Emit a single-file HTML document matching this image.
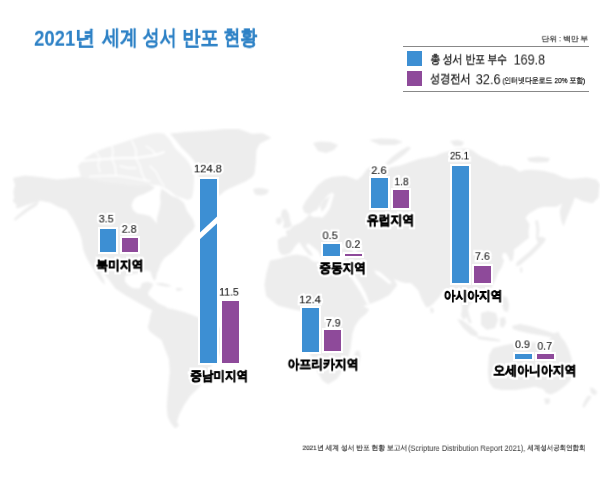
<!DOCTYPE html>
<html lang="ko"><head><meta charset="utf-8">
<style>
html,body{margin:0;padding:0;background:#fff;}
body{width:608px;height:480px;position:relative;overflow:hidden;font-family:"Liberation Sans",sans-serif;}
svg{position:absolute;left:0;top:0;}
.b{position:absolute;}
.bb{box-shadow:0 0 0.6px 2px #fff;}
.t{position:absolute;left:0;top:0;white-space:nowrap;line-height:1.2;transform-origin:0 0;will-change:transform;}
</style></head><body>
<svg width="608" height="480" viewBox="0 0 608 480"><defs><filter id="bl" x="0" y="0" width="1" height="1"><feGaussianBlur stdDeviation="0.8"/></filter></defs><g filter="url(#bl)"><path fill="#f1f1f1" d="M78,166 85,158 95,152 105,148 118,144 130,140 142,136 152,133.5 158,133 164,133.5 170,140 175,148 180,153 185,158 189,163 192,169 194,175 194,182 193.5,190 192,198 188,200 182,198 176,196 170,191 163,187 156,185 148,184.5 138,185.5 128,184.5 116,183 106,182 94,179.5 81,177Z"/><path fill="#ededed" d="M13,178 25,175.5 40,177 57,179.5 72,178 81,177 94,179.5 106,182 116,183 128,184.5 138,185.5 148,184.5 155,187 162,189 168,193 172,196 178,198 184,203 187,211 192.8,219 195,226 193,230 190.7,232 185,237.5 179.4,245 171.9,252.5 164.4,258.1 160.7,263.8 158.8,269.4 156.9,273.2 156,278.8 154.1,280.7 152.2,276.9 150.3,271.3 145.6,270.3 138.1,273.2 128.8,275 125,276 125,281.7 129,286 133.3,288.3 140,288.5 142,283 148,281.7 153.3,284 151,288.5 148.3,292 148.3,295 153,299 158.3,303.3 163,305.5 166.7,307 166,312 165,316.7 158.3,313.3 148.3,308.3 136.7,301.7 125,295 115,288.3 110,281 104,274 99,268 101,274 104,280 105,285 101,281 96.7,275 91.7,266.7 86.7,258.3 83.3,250 81.7,240 79.7,233 73.2,219.7 66.6,209.9 58,206.7 50,202.5 40,200.8 35,202.5 26.7,205 18.3,208.3 15.8,208 16.7,205 12.5,200.8 14.2,198.3 13.3,191.7 15,185ZM39,201 31,205 24,210 17,216 13.5,219.5 15.5,220.5 22,215.5 29,210.5 37,205.5ZM170,133.5 176.6,133 185.5,132 209.2,130.4 224.9,128.9 238.8,128.9 251.8,133.8 262.5,133.3 271.4,137.8 259.7,143.7 256.5,150 255.8,163 254.5,173.7 251.8,177.6 245.3,181.6 237.4,185 229.5,188.5 224,191.5 221,194.5 216,197 209,197 203,193 199.5,186 199,179 198,167 194,161 190,156 185.5,151.5 181,147 175.5,140ZM253,189 258,188 264,188.5 269,190 267,194 261,195.5 255,194.5ZM313,143 320,141.5 330,142 338,145 334,150 326,153 318,151ZM369,140 380,138.5 395,139 403,142 395,145 380,145ZM385,164 392,157 400,151 408,146.5 411,148 405,154 397,160 389,165ZM450,141 458,140 464,142 462,146 454,146ZM527,158 538,156.5 550,158 548,162 536,162.5 529,161.5ZM282,210 286,209 289,214 290,220 292,226 288,228 283,228 284,222 281,216ZM276.5,218 281,217 282,222 279,225 276,223ZM325,179.5 332,177 338.7,176.2 346,176 352,178 357,180 362,176 367,169 372,166 379,168 385,169.5 392,167 400.5,165.5 410,162 419,159 427,157.5 434.7,156.3 442,153 450.5,151 458,149 466,148.4 472,150 477,153.7 482,157 487.4,159 494,162 500,165.8 505,165.5 511.7,166.8 519.6,171.7 525,170 531.4,169.7 543.3,170.7 555.1,173.7 563,177.6 570,179 576.8,178.6 586.7,177.6 596.5,179.6 600,184.5 599,191 598.5,197.4 592.6,203.3 586,202 582.7,201.3 576,198 574.8,197.4 573,203 570,210 567,217 563.5,226.5 561,220 559.8,211 562,203.5 556.7,206.7 544.2,206.7 537.9,208.2 528.5,214 525.4,218 527.5,221 529.6,224.4 528.5,231.7 529,238 525.4,240.6 518.1,246.5 514,249.5 513.75,254 513,260 510,261.5 508.5,257 506,253 503,253 502,257 504,261 501.6,267.4 498,273 495.7,279.2 491.7,287.1 489,293 485,296 481,292 477,290 476,296 472,302 469,306 468,310 467,316 464,320 461,316 462,308 461,300 458,294 452,292 446,289 443.4,290.5 439.5,297.1 434,303 430.3,306.3 426.3,307.6 422,300 418,290 411,283 405,283 399.2,281.3 394,279 389,282 382,276 377,271 372,269 366,266 360,262 355,259 350,257 346,258 344,254 338,250 335,251 330,248 325,252 327,258 321,257 318,251 313,247 308,243 306,246 311,252 313,256 309,255 303,248 299.3,242 295.4,246 292,251 289.5,253.5 285,255 281,254.5 278.5,250 277.6,240 282,237 287,236 285.7,231 290,229.2 293,226 299.5,223.3 304,220 307,217 309.3,214.4 313.3,217 319,217 322,212 320,206 324,200 330,196 333,191.7 328,195 322,202 317,210 313.3,211.4 309.3,214.4 304.4,212.4 302.4,207.5 305.4,201.6 311.3,193.7 317.2,185.8ZM541,239.5 544,242.5 538,249 532,255 526,260 520,265 516,266.5 516.5,262.5 523,257 529,252 535,246ZM536,238 541,236.5 546,238.5 544,242.5 538,243ZM535,221 538,220 539.5,230 538,239 536,238 536.5,229ZM520,268 522,267 522.5,272 520.5,273ZM430,308 433,308 434,312 431,313.5ZM270,260.6 279.3,258.7 285.5,256.5 292.5,255 297.4,254.5 307.2,256.5 313.2,261.4 321,262.4 329,263.4 336.8,264.4 341,262 346,258 350,257 355,259 360,262 366,266 372,269 377,271 382,276 389,282 394,279 397.2,285.3 389.3,295.1 380,300 369.6,304 363,306 369.3,309.3 366,314 359.9,318.7 355,326 352.4,333.7 350.5,348.7 346.8,363.6 337.4,378.6 328,384.3 322.4,380.5 315,367.4 309.3,352.4 305.6,337.4 303.7,322.4 301.8,311.2 292.5,309.3 277.5,305.6 266.2,296.2 264.4,285 266.2,273.7ZM355,352 359,350 360.5,356 358,368 354,372 352.5,366 354,358ZM152.5,310.3 158.8,307.2 165,308 171.3,308.8 183.8,311.9 196.3,316.6 205,321 215,326 225,330 232,335 230,343 222,352 213.4,361.9 205.6,377.5 199.4,386.9 190,396.3 183.8,405.6 179,415 177,422 179.2,425.4 175,428.5 170.8,423.3 167.7,417.1 166.7,406.7 167.7,394.2 168.8,381.7 169.8,371.3 168.8,358.8 164.6,348.3 161.5,340 155.6,336 149.4,331 147.8,327 149.4,321.3 150.9,313.4ZM155,283.5 162,283 168,284.5 172,286.3 166,286.8 159,285.2ZM175.7,288 181,288 183,290 177,291ZM465,308 468,310 470,318 472,323 469,323 466,316ZM457,319 462,320 470,326 478,333 477,337 471,335 463,328ZM481,313 488,311 496,313 498,320 495,328 487,330 481,325ZM477,336 486,337 495,338.5 501,340 499,341.5 488,340.5 478,339ZM500,318 505,317 506,323 503,328 500,326ZM502,296 507,297 509,305 508,312 504,311 502,304ZM512,326 520,324 530,326 540,329 550,332 557,334.5 559,337 552,337.5 542,335.5 530,333.5 519,331 513,329ZM493,348 505,345 518,343 528,342 535,342.5 542,341 547,343 551,338 555,333 558.3,331.7 561,337 565,341.7 569,350 571.5,358 573,368 572.5,376 570,381 565.5,385.6 558,391.3 551,394.5 546,393 543.3,389 535,386.7 526.7,388.3 515,390 501.7,390 493.3,388.3 489,382 488,372 488.5,362 489,355ZM544,398.5 550,398.5 549.5,403.5 545.5,404.5ZM590,387.5 593,388 597.4,392 595,395.5 591,393ZM588,395.5 591.8,396.5 588,402 584,408 582.4,406 585,400Z"/><path fill="#fff" d="M341,262 344,263 352,272 360,283 366,294 369.6,304 367,304 361,293 354,282 347,271 341.5,265ZM374,270 380,272 388,279 392,283 389,284 383,279 376,274ZM330,245 336,243 343,244 345,248 338,250 332,249ZM352,241 356,240 357,248 356,255 353,253 353,247ZM318,216 322,212 326,207 329,199 332,193 334,194 332,201 330,208 326,214 322,218ZM131.5,205 134,199 138,196 143,194.5 148,192 152,190 156,186 160,185 161,190 160,196 160.5,203 159,211 157,218 156.8,223.7 154,220 150,216 144,214.5 137.3,213.4 133,210Z"/><path fill="none" stroke="#fff" stroke-width="2.0" stroke-linecap="round" stroke-linejoin="round" d="M82,161 92,160 100,159.5 112,158.5 124,158 136,158 146,156.5 156,155 164,152"/><path fill="none" stroke="#fff" stroke-width="1.6" stroke-linecap="round" stroke-linejoin="round" d="M90,176.5 100,176 110,175.5 120,176 130,177.5 140,179.5 150,181"/><path fill="none" stroke="#fff" stroke-width="1.5" stroke-linecap="round" stroke-linejoin="round" d="M112,146 113,152 112,159 115,166 116,175"/><path fill="none" stroke="#fff" stroke-width="1.5" stroke-linecap="round" stroke-linejoin="round" d="M132,141 136,150 136,158 140,166 142,174 146,181"/><path fill="none" stroke="#fff" stroke-width="1.3" stroke-linecap="round" stroke-linejoin="round" d="M96,152 100,158 98,165 100,172"/><path fill="none" stroke="#fff" stroke-width="1.3" stroke-linecap="round" stroke-linejoin="round" d="M120,166 128,168 136,168"/><path fill="none" stroke="#fff" stroke-width="1.3" stroke-linecap="round" stroke-linejoin="round" d="M146,146 152,150 156,155"/><path fill="none" stroke="#fff" stroke-width="1.3" stroke-linecap="round" stroke-linejoin="round" d="M150,166 156,172 160,180 164,186"/></g></svg>
<div class="b" style="left:403px;top:46px;width:186px;height:1px;background:#888;"></div>
<div class="b" style="left:403px;top:91px;width:186px;height:1px;background:#888;"></div>
<div class="b" style="left:407px;top:51.3px;width:15px;height:15px;background:#3d8fd3;"></div>
<div class="b" style="left:407px;top:71.3px;width:15px;height:15px;background:#8e4a9a;"></div>
<div class="t" style="font-size:11px;color:#fff;-webkit-text-stroke:4.62px #fff;transform:matrix(0.9733,0,0,0.9500,98.70,212.90)">3.5</div>
<div class="t" style="font-size:11px;color:#fff;-webkit-text-stroke:4.62px #fff;transform:matrix(0.9733,0,0,0.9500,121.70,223.20)">2.8</div>
<div class="t" style="font-size:12.5px;font-weight:bold;color:#fff;-webkit-text-stroke:5.52px #fff;transform:matrix(0.9059,0,0,1.0000,96.30,258.50)">북미지역</div>
<div class="t" style="font-size:11px;color:#fff;-webkit-text-stroke:4.42px #fff;transform:matrix(1.0185,0,0,0.9500,193.88,162.85)">124.8</div>
<div class="t" style="font-size:11px;color:#fff;-webkit-text-stroke:4.74px #fff;transform:matrix(0.9500,0,0,0.9500,219.15,286.10)">11.5</div>
<div class="t" style="font-size:12.5px;font-weight:bold;color:#fff;-webkit-text-stroke:5.62px #fff;transform:matrix(0.8891,0,0,1.0000,190.30,369.10)">중남미지역</div>
<div class="t" style="font-size:11px;color:#fff;-webkit-text-stroke:4.50px #fff;transform:matrix(1.0000,0,0,0.9500,322.50,229.62)">0.5</div>
<div class="t" style="font-size:11px;color:#fff;-webkit-text-stroke:4.69px #fff;transform:matrix(0.9600,0,0,0.9500,345.60,238.35)">0.2</div>
<div class="t" style="font-size:12.5px;font-weight:bold;color:#fff;-webkit-text-stroke:5.59px #fff;transform:matrix(0.8941,0,0,1.0000,319.40,261.20)">중동지역</div>
<div class="t" style="font-size:11px;color:#fff;-webkit-text-stroke:4.50px #fff;transform:matrix(1.0000,0,0,0.9500,371.30,164.50)">2.6</div>
<div class="t" style="font-size:11px;color:#fff;-webkit-text-stroke:4.85px #fff;transform:matrix(0.9286,0,0,0.9500,394.37,175.80)">1.8</div>
<div class="t" style="font-size:12.5px;font-weight:bold;color:#fff;-webkit-text-stroke:5.47px #fff;transform:matrix(0.9137,0,0,1.0000,366.70,213.35)">유럽지역</div>
<div class="t" style="font-size:11px;color:#fff;-webkit-text-stroke:5.00px #fff;transform:matrix(0.9000,0,0,0.9500,449.90,149.90)">25.1</div>
<div class="t" style="font-size:11px;color:#fff;-webkit-text-stroke:4.62px #fff;transform:matrix(0.9733,0,0,0.9500,474.90,250.35)">7.6</div>
<div class="t" style="font-size:12.5px;font-weight:bold;color:#fff;-webkit-text-stroke:5.56px #fff;transform:matrix(0.9000,0,0,1.0000,443.80,289.00)">아시아지역</div>
<div class="t" style="font-size:11px;color:#fff;-webkit-text-stroke:4.42px #fff;transform:matrix(1.0190,0,0,0.9500,299.18,293.80)">12.4</div>
<div class="t" style="font-size:11px;color:#fff;-webkit-text-stroke:4.69px #fff;transform:matrix(0.9600,0,0,0.9500,325.90,317.05)">7.9</div>
<div class="t" style="font-size:12.5px;font-weight:bold;color:#fff;-webkit-text-stroke:5.50px #fff;transform:matrix(0.9091,0,0,1.0000,287.60,357.45)">아프리카지역</div>
<div class="t" style="font-size:11px;color:#fff;-webkit-text-stroke:4.66px #fff;transform:matrix(0.9667,0,0,0.9500,515.00,338.55)">0.9</div>
<div class="t" style="font-size:11px;color:#fff;-webkit-text-stroke:4.72px #fff;transform:matrix(0.9533,0,0,0.9500,537.40,340.15)">0.7</div>
<div class="t" style="font-size:12.5px;font-weight:bold;color:#fff;-webkit-text-stroke:5.47px #fff;transform:matrix(0.9133,0,0,1.0000,493.30,363.70)">오세아니아지역</div>
<div class="b bb" style="left:99.7px;top:229.2px;width:16.8px;height:23.3px;background:#3d8fd3"></div>
<div class="b bb" style="left:121.5px;top:238.3px;width:16.8px;height:14.2px;background:#8e4a9a"></div>
<div class="b bb" style="left:200.0px;top:178.7px;width:16.8px;height:184.8px;background:#3d8fd3"></div>
<div class="b bb" style="left:221.8px;top:301.1px;width:16.8px;height:62.4px;background:#8e4a9a"></div>
<div class="b bb" style="left:323.1px;top:243.5px;width:16.8px;height:12.8px;background:#3d8fd3"></div>
<div class="b bb" style="left:344.9px;top:253.5px;width:16.8px;height:2.8px;background:#8e4a9a"></div>
<div class="b bb" style="left:370.8px;top:178.3px;width:16.8px;height:29.7px;background:#3d8fd3"></div>
<div class="b bb" style="left:392.6px;top:190.0px;width:16.8px;height:18.0px;background:#8e4a9a"></div>
<div class="b bb" style="left:452.0px;top:165.8px;width:16.8px;height:117.6px;background:#3d8fd3"></div>
<div class="b bb" style="left:473.8px;top:265.9px;width:16.8px;height:17.5px;background:#8e4a9a"></div>
<div class="b bb" style="left:302.1px;top:307.5px;width:16.8px;height:44.0px;background:#3d8fd3"></div>
<div class="b bb" style="left:323.9px;top:329.6px;width:16.8px;height:21.9px;background:#8e4a9a"></div>
<div class="b bb" style="left:515.0px;top:353.5px;width:16.8px;height:5.3px;background:#3d8fd3"></div>
<div class="b bb" style="left:536.8px;top:354.3px;width:16.8px;height:4.5px;background:#8e4a9a"></div>
<div class="b" style="left:194px;top:224.6px;width:30px;height:5.4px;background:#fff;transform:rotate(-43deg);"></div>
<div class="t" id="t1" style="font-size:21.6px;font-weight:bold;color:#2e82c6;transform:matrix(0.8563,0,0,1.0000,34.10,25.75)">2021</div>
<div class="t" id="t1b" style="font-size:21px;font-weight:bold;color:#2e82c6;-webkit-text-stroke:0.2px #2e82c6;transform:matrix(0.9647,0,0,1.0000,74.97,24.85)">년</div>
<div class="t" id="t2" style="font-size:21px;font-weight:bold;color:#2e82c6;-webkit-text-stroke:0.2px #2e82c6;transform:matrix(0.8439,0,0,1.0000,102.34,24.35)">세계</div>
<div class="t" id="t3" style="font-size:21px;font-weight:bold;color:#2e82c6;-webkit-text-stroke:0.2px #2e82c6;transform:matrix(0.8150,0,0,1.0000,142.60,24.35)">성서</div>
<div class="t" id="t4" style="font-size:21px;font-weight:bold;color:#2e82c6;-webkit-text-stroke:0.2px #2e82c6;transform:matrix(0.8625,0,0,1.0000,182.34,24.85)">반포</div>
<div class="t" id="t5" style="font-size:21px;font-weight:bold;color:#2e82c6;-webkit-text-stroke:0.2px #2e82c6;transform:matrix(0.8024,0,0,1.0000,223.50,24.35)">현황</div>
<div class="t" id="unit" style="font-size:8.5px;color:#333;-webkit-text-stroke:0.25px #333;transform:matrix(0.8630,0,0,0.8000,541.50,34.80)">단위 : 백만 부</div>
<div class="t" id="lg1" style="font-size:12px;color:#111;-webkit-text-stroke:0.35px #111;transform:matrix(0.8138,0,0,1.0000,430.50,52.25)">총 성서 반포 부수</div>
<div class="t" id="lg1v" style="font-size:14.5px;color:#222;transform:matrix(0.8629,0,0,1.0000,513.64,51.55)">169.8</div>
<div class="t" id="lg2" style="font-size:12px;color:#111;-webkit-text-stroke:0.35px #111;transform:matrix(0.8447,0,0,1.0000,430.00,71.60)">성경전서</div>
<div class="t" id="lg2v" style="font-size:14.5px;color:#222;transform:matrix(0.8786,0,0,1.0000,475.70,71.25)">32.6</div>
<div class="t" id="lg2n" style="font-size:7.5px;color:#222;-webkit-text-stroke:0.25px #222;transform:matrix(0.8573,0,0,1.0000,502.60,75.95)">(인터넷다운로드 20% 포함)</div>
<div class="t" id="vb_na" style="font-size:11px;color:#1a1a1a;-webkit-text-stroke:0.12px #1a1a1a;transform:matrix(0.9733,0,0,0.9500,98.70,212.90)">3.5</div>
<div class="t" id="vp_na" style="font-size:11px;color:#1a1a1a;-webkit-text-stroke:0.12px #1a1a1a;transform:matrix(0.9733,0,0,0.9500,121.70,223.20)">2.8</div>
<div class="t" id="lb_na" style="font-size:12.5px;font-weight:bold;color:#000;-webkit-text-stroke:0.6px #000;transform:matrix(0.9059,0,0,1.0000,96.30,258.50)">북미지역</div>
<div class="t" id="vb_csa" style="font-size:11px;color:#1a1a1a;-webkit-text-stroke:0.12px #1a1a1a;transform:matrix(1.0185,0,0,0.9500,193.88,162.85)">124.8</div>
<div class="t" id="vp_csa" style="font-size:11px;color:#1a1a1a;-webkit-text-stroke:0.12px #1a1a1a;transform:matrix(0.9500,0,0,0.9500,219.15,286.10)">11.5</div>
<div class="t" id="lb_csa" style="font-size:12.5px;font-weight:bold;color:#000;-webkit-text-stroke:0.6px #000;transform:matrix(0.8891,0,0,1.0000,190.30,369.10)">중남미지역</div>
<div class="t" id="vb_me" style="font-size:11px;color:#1a1a1a;-webkit-text-stroke:0.12px #1a1a1a;transform:matrix(1.0000,0,0,0.9500,322.50,229.62)">0.5</div>
<div class="t" id="vp_me" style="font-size:11px;color:#1a1a1a;-webkit-text-stroke:0.12px #1a1a1a;transform:matrix(0.9600,0,0,0.9500,345.60,238.35)">0.2</div>
<div class="t" id="lb_me" style="font-size:12.5px;font-weight:bold;color:#000;-webkit-text-stroke:0.6px #000;transform:matrix(0.8941,0,0,1.0000,319.40,261.20)">중동지역</div>
<div class="t" id="vb_eu" style="font-size:11px;color:#1a1a1a;-webkit-text-stroke:0.12px #1a1a1a;transform:matrix(1.0000,0,0,0.9500,371.30,164.50)">2.6</div>
<div class="t" id="vp_eu" style="font-size:11px;color:#1a1a1a;-webkit-text-stroke:0.12px #1a1a1a;transform:matrix(0.9286,0,0,0.9500,394.37,175.80)">1.8</div>
<div class="t" id="lb_eu" style="font-size:12.5px;font-weight:bold;color:#000;-webkit-text-stroke:0.6px #000;transform:matrix(0.9137,0,0,1.0000,366.70,213.35)">유럽지역</div>
<div class="t" id="vb_as" style="font-size:11px;color:#1a1a1a;-webkit-text-stroke:0.12px #1a1a1a;transform:matrix(0.9000,0,0,0.9500,449.90,149.90)">25.1</div>
<div class="t" id="vp_as" style="font-size:11px;color:#1a1a1a;-webkit-text-stroke:0.12px #1a1a1a;transform:matrix(0.9733,0,0,0.9500,474.90,250.35)">7.6</div>
<div class="t" id="lb_as" style="font-size:12.5px;font-weight:bold;color:#000;-webkit-text-stroke:0.6px #000;transform:matrix(0.9000,0,0,1.0000,443.80,289.00)">아시아지역</div>
<div class="t" id="vb_af" style="font-size:11px;color:#1a1a1a;-webkit-text-stroke:0.12px #1a1a1a;transform:matrix(1.0190,0,0,0.9500,299.18,293.80)">12.4</div>
<div class="t" id="vp_af" style="font-size:11px;color:#1a1a1a;-webkit-text-stroke:0.12px #1a1a1a;transform:matrix(0.9600,0,0,0.9500,325.90,317.05)">7.9</div>
<div class="t" id="lb_af" style="font-size:12.5px;font-weight:bold;color:#000;-webkit-text-stroke:0.6px #000;transform:matrix(0.9091,0,0,1.0000,287.60,357.45)">아프리카지역</div>
<div class="t" id="vb_oc" style="font-size:11px;color:#1a1a1a;-webkit-text-stroke:0.12px #1a1a1a;transform:matrix(0.9667,0,0,0.9500,515.00,338.55)">0.9</div>
<div class="t" id="vp_oc" style="font-size:11px;color:#1a1a1a;-webkit-text-stroke:0.12px #1a1a1a;transform:matrix(0.9533,0,0,0.9500,537.40,340.15)">0.7</div>
<div class="t" id="lb_oc" style="font-size:12.5px;font-weight:bold;color:#000;-webkit-text-stroke:0.6px #000;transform:matrix(0.9133,0,0,1.0000,493.30,363.70)">오세아니아지역</div>
<div class="t" id="f1" style="font-size:7.5px;color:#333;-webkit-text-stroke:0.2px #333;transform:matrix(0.8516,0,0,0.9000,302.50,443.80)">2021년 세계 성서 반포 현황 보고서</div>
<div class="t" id="f2" style="font-size:8.5px;color:#333;transform:matrix(0.8618,0,0,0.9111,408.00,443.69)">(Scripture Distribution Report 2021),</div>
<div class="t" id="f3" style="font-size:7.5px;color:#333;-webkit-text-stroke:0.2px #333;transform:matrix(0.8056,0,0,0.9000,527.40,443.80)">세계성서공회연합회</div>
</body></html>
